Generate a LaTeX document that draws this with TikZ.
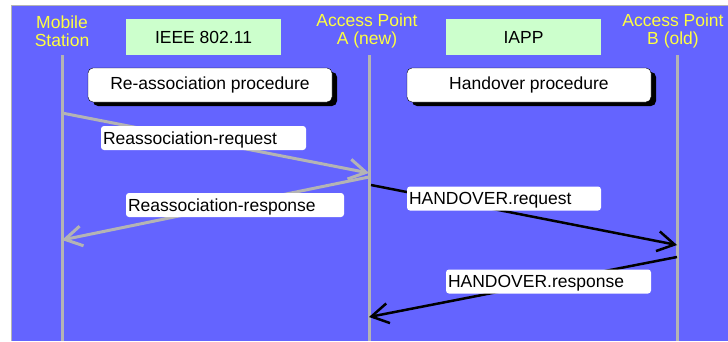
\documentclass[tikz,border=0pt]{standalone}
\usepackage{fontspec}
\setmainfont{Liberation Sans}
\usetikzlibrary{arrows.meta,shadows}
\definecolor{bgblue}{HTML}{6464FF}
\definecolor{hdyellow}{HTML}{FFFF40}
\definecolor{boxgreen}{HTML}{CCFFCC}
\definecolor{msggray}{HTML}{B4B4B4}
\begin{document}
\begin{tikzpicture}[x=1pt,y=-1pt,font=\fontsize{17.5}{18}\selectfont,
  >={Straight Barb[length=17pt,width=20pt]},
  header/.style={text=hdyellow,align=center,inner sep=0pt},
  protobox/.style={fill=boxgreen,minimum width=155pt,minimum height=36pt,inner sep=0pt},
  procbox/.style={fill=white,draw=black,rounded corners=5pt,minimum width=244pt,minimum height=34pt,inner sep=0pt,
    drop shadow={shadow xshift=5pt,shadow yshift=-4pt,fill=black,opacity=1}},
  msglabel/.style={fill=white,rounded corners=3pt,inner sep=0pt,minimum height=24pt,text depth=0pt},
  lifeline/.style={draw=msggray,line width=3pt},
  wlan/.style={->,draw=msggray,line width=3pt},
  iapp/.style={->,draw=black,line width=2.5pt}]

\useasboundingbox (0,0) rectangle (728,341);
\fill[bgblue] (11,5) rectangle (728,341);
\draw[msggray,line width=1pt] (11,341) -- (11,5) -- (728,5);

% lifelines
\coordinate (ms top) at (62,55);
\coordinate (ms bot) at (62,341);
\coordinate (apa top) at (369,55);
\coordinate (apa bot) at (369,341);
\coordinate (apb top) at (677,55);
\coordinate (apb bot) at (677,341);
\draw [lifeline] (ms top) -- (ms bot);
\draw [lifeline] (apa top) -- (apa bot);
\draw [lifeline] (apb top) -- (apb bot);

\node (ms) [header] at (62,31) {Mobile\\Station};
\node (apa) [header] at (367,31) {Access Point\\A (new)};
\node (apb) [header] at (673,31) {Access Point\\B (old)};

\node (ieee) [protobox] at (203.5,37) {IEEE 802.11};
\node (iappbox) [protobox] at (523.5,37) {IAPP};

\node (reassoc) [procbox] at (210,85) {Re-association procedure};
\node (handover) [procbox] at (529,85) {Handover procedure};

% message end points
\coordinate (ms req) at (62,113);
\coordinate (apa req) at (369,173);
\coordinate (apa resp) at (369,177);
\coordinate (ms resp) at (62,240);
\coordinate (apa hreq) at (371,185);
\coordinate (apb hreq) at (677,245);
\coordinate (apb hresp) at (677,257);
\coordinate (apa hresp) at (369,317);

\draw [wlan] (ms req) -- (apa req);
\draw [wlan] (apa resp) -- (ms resp);
\draw [iapp] (apa hreq) -- (apb hreq);
\draw [iapp] (apb hresp) -- (apa hresp);

\node (l1) [msglabel,minimum width=205pt,text width=201pt] at (203.5,138) {Reassociation-request};
\node (l2) [msglabel,minimum width=218pt,text width=214pt] at (235,205) {Reassociation-response};
\node (l3) [msglabel,minimum width=194pt,text width=190pt] at (504,198.5) {HANDOVER.request};
\node (l4) [msglabel,minimum width=205pt,text width=201pt] at (548.5,281.5) {HANDOVER.response};

\end{tikzpicture}
\end{document}
